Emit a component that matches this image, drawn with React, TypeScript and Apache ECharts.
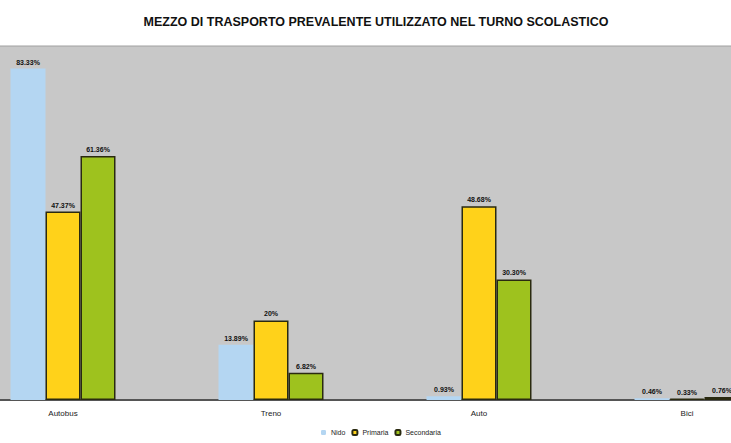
import React, { useEffect, useRef } from "react";
import * as echarts from "echarts";

const title = "MEZZO DI TRASPORTO PREVALENTE UTILIZZATO NEL TURNO SCOLASTICO";
const categories = ["Autobus", "Treno", "Auto", "Bici"];
const seriesNames = ["Nido", "Primaria", "Secondaria"];
const blueValues = [83.33, 13.89, 0.93, 0.46];
const yellowValues = [47.37, 20, 48.68, 0.33];
const greenValues = [61.36, 6.82, 30.3, 0.76];
const colors = ["#B4D6F2", "#FFD21A", "#9EC21E"];

function fmt(p: any) {
  const v = p.value as number;
  return Number.isInteger(v) ? v + "%" : v.toFixed(2) + "%";
}

const OFFSET = 41;
const WIDTH = 832;

export default function App() {
  const ref = useRef<HTMLDivElement>(null);
  useEffect(() => {
    if (!ref.current) return;
    const chart = echarts.init(ref.current, null, { renderer: "svg" });
    const label = {
      show: true,
      position: "top",
      distance: 3,
      fontSize: 7,
      fontWeight: "bold",
      color: "#111",
      fontFamily: "Liberation Sans",
      formatter: fmt,
    };
    const data = [blueValues, yellowValues, greenValues];
    chart.setOption({
      animation: false,
      backgroundColor: "#ffffff",
      title: {
        text: title,
        left: OFFSET + 371,
        textAlign: "center",
        top: 10,
        textStyle: { fontSize: 12.5, fontWeight: "bold", color: "#111", fontFamily: "Liberation Sans" },
      },
      legend: {
        bottom: 2,
        left: OFFSET + 316,
        itemWidth: 5,
        itemHeight: 5,
        itemGap: 6,
        textStyle: { fontSize: 7, color: "#222", fontFamily: "Liberation Sans" },
        data: seriesNames,
      },
      grid: {
        left: 0,
        right: 0,
        top: 46,
        bottom: 43,
        show: true,
        backgroundColor: "#C8C8C8",
        borderColor: "#A0A0A0",
        borderWidth: 1,
      },
      xAxis: {
        type: "category",
        data: categories,
        axisLine: { lineStyle: { color: "#555", width: 2 } },
        axisTick: { show: false },
        axisLabel: { fontSize: 8, color: "#222", fontFamily: "Liberation Sans", margin: 9 },
      },
      yAxis: {
        type: "value",
        min: 0,
        max: 89,
        show: false,
        splitLine: { show: false },
      },
      series: seriesNames.map((name, i) => ({
        name,
        type: "bar",
        data: data[i],
        barWidth: 35,
        barGap: "0%",
        itemStyle: {
          color: colors[i],
          borderColor: i === 0 ? colors[0] : "#2a2a10",
          borderWidth: i === 0 ? 0 : 1.5,
        },
        label,
      })),
    });
    return () => chart.dispose();
  }, []);
  return (
    <div
      ref={ref}
      style={{ position: "fixed", left: -OFFSET, top: 0, width: WIDTH, height: 443 }}
    />
  );
}
